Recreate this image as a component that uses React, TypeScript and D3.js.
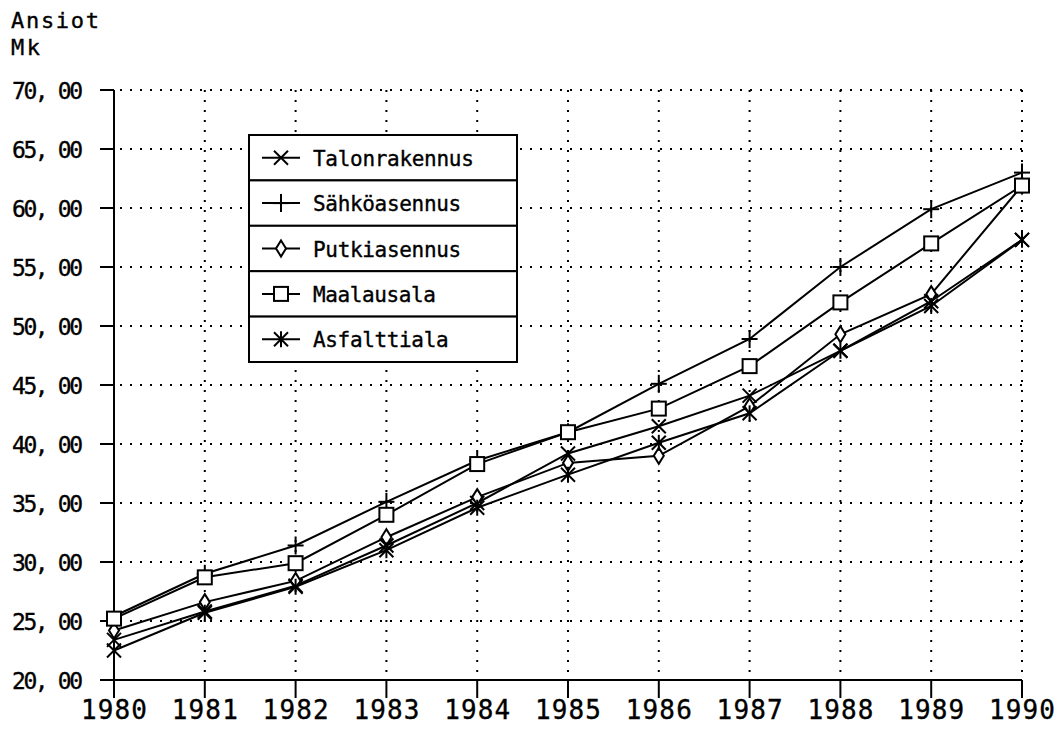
import React, { useEffect, useRef } from "react";
import * as d3 from "d3";

const years = [1980, 1981, 1982, 1983, 1984, 1985, 1986, 1987, 1988, 1989, 1990];
const yTicks = [20, 25, 30, 35, 40, 45, 50, 55, 60, 65, 70];

const seriesNames = ["Talonrakennus", "Sähköasennus", "Putkiasennus", "Maalausala", "Asfalttiala"];
const seriesMarkers = ["x", "plus", "diamond", "square", "asterisk"];

const talonrakennus = [23.4, 25.8, 28.0, 31.4, 35.0, 39.2, 41.5, 44.1, 47.9, 52.1, 57.3];
const sahkoasennus = [25.4, 29.0, 31.4, 35.1, 38.6, 41.0, 45.1, 48.9, 55.0, 59.9, 63.0];
const putkiasennus = [24.2, 26.6, 28.4, 32.1, 35.5, 38.4, 39.0, 43.2, 49.3, 52.7, 61.9];
const maalausala = [25.2, 28.7, 29.9, 34.0, 38.3, 41.0, 43.0, 46.6, 52.0, 57.0, 61.9];
const asfalttiala = [22.5, 25.7, 27.9, 31.0, 34.6, 37.4, 40.1, 42.6, 47.9, 51.7, 57.3];

const seriesValues = [talonrakennus, sahkoasennus, putkiasennus, maalausala, asfalttiala];

const FONT = "'DejaVu Sans Mono', monospace";

// draw one marker shape centred on (x, y)
function drawMarker(g: any, type: string, x: number, y: number) {
  const s = 7;
  const line = (x1: number, y1: number, x2: number, y2: number) =>
    g.append("line")
      .attr("x1", x1).attr("y1", y1).attr("x2", x2).attr("y2", y2)
      .attr("stroke", "black").attr("stroke-width", 2);
  if (type === "x" || type === "asterisk") {
    line(x - s, y - s, x + s, y + s);
    line(x - s, y + s, x + s, y - s);
  }
  if (type === "asterisk") {
    line(x, y - s - 1, x, y + s + 1);
  }
  if (type === "plus") {
    line(x - 8, y, x + 8, y);
    line(x, y - 9, x, y + 9);
  }
  if (type === "diamond") {
    g.append("path")
      .attr("d", `M${x},${y - 8}L${x + 5},${y}L${x},${y + 8}L${x - 5},${y}Z`)
      .attr("fill", "white").attr("stroke", "black").attr("stroke-width", 2);
  }
  if (type === "square") {
    g.append("rect")
      .attr("x", x - 7).attr("y", y - 7).attr("width", 14).attr("height", 14)
      .attr("fill", "white").attr("stroke", "black").attr("stroke-width", 2);
  }
}

// text in the plotter-like style: monospaced, spread to a given width
function addText(sel: any, str: string, x: number, y: number, size: number, width: number) {
  return sel.append("text")
    .attr("x", x).attr("y", y)
    .attr("font-family", FONT).attr("font-size", size)
    .attr("stroke", "black").attr("stroke-width", 0.35)
    .attr("textLength", width).attr("lengthAdjust", "spacing")
    .text(str);
}

const App = () => {
  const svgRef = useRef<SVGSVGElement>(null);

  useEffect(() => {
    const svg = d3.select(svgRef.current);
    svg.selectAll("*").remove();

    const left = 114, right = 1022, top = 90, bottom = 680;

    const x = d3.scaleLinear().domain([1980, 1990]).range([left, right]);
    const y = d3.scaleLinear().domain([20, 70]).range([bottom, top]);

    // titles
    addText(svg, "Ansiot", 11, 28, 22, 88);
    addText(svg, "Mk", 11, 55, 22, 29);

    // dotted grid
    const grid = svg.append("g").attr("stroke", "black").attr("stroke-width", 2)
      .attr("stroke-dasharray", "2,8");
    yTicks.filter((t) => t > 20).forEach((t) => {
      grid.append("line").attr("x1", left + 6).attr("x2", right)
        .attr("y1", y(t)).attr("y2", y(t));
    });
    years.filter((yr) => yr > 1980).forEach((yr) => {
      grid.append("line").attr("x1", x(yr)).attr("x2", x(yr))
        .attr("y1", top).attr("y2", bottom - 4);
    });

    // axes
    const axes = svg.append("g").attr("stroke", "black").attr("stroke-width", 2);
    axes.append("line").attr("x1", left).attr("x2", left).attr("y1", top).attr("y2", bottom + 18);
    axes.append("line").attr("x1", left - 14).attr("x2", right).attr("y1", bottom).attr("y2", bottom);
    yTicks.forEach((t) => {
      axes.append("line").attr("x1", left - 14).attr("x2", left).attr("y1", y(t)).attr("y2", y(t));
    });
    years.forEach((yr) => {
      axes.append("line").attr("x1", x(yr)).attr("x2", x(yr)).attr("y1", bottom).attr("y2", bottom + 18);
    });

    // tick labels
    yTicks.forEach((t) => {
      addText(svg, d3.format(".2f")(t).replace(".", ", "), 12, y(t) + 9, 23, 71);
    });
    years.forEach((yr) => {
      addText(svg, String(yr), x(yr) - 33, 719, 26, 66);
    });

    // series lines
    const lineGen = d3.line<number>()
      .x((_, i) => x(years[i]))
      .y((d) => y(d));
    seriesValues.forEach((vals) => {
      svg.append("path").attr("d", lineGen(vals))
        .attr("fill", "none").attr("stroke", "black").attr("stroke-width", 2);
    });
    seriesValues.forEach((vals, si) => {
      const g = svg.append("g");
      vals.forEach((v, i) => drawMarker(g, seriesMarkers[si], x(years[i]), y(v)));
    });

    // legend
    const lx = 249, ly = 135, lw = 268, rowH = 45.4;
    const legend = svg.append("g");
    seriesNames.forEach((name, i) => {
      const ry = ly + i * rowH;
      legend.append("rect").attr("x", lx).attr("y", ry).attr("width", lw).attr("height", rowH)
        .attr("fill", "white").attr("stroke", "black").attr("stroke-width", 2);
      const cy = ry + rowH / 2;
      legend.append("line").attr("x1", 262).attr("x2", 300).attr("y1", cy).attr("y2", cy)
        .attr("stroke", "black").attr("stroke-width", 2);
      drawMarker(legend, seriesMarkers[i], 281, cy);
      addText(legend, name, 313, cy + 8, 21, name.length * 12.6 - 3);
    });
  }, []);

  return (
    <div style={{ position: "absolute", left: 0, top: 0 }}>
      <svg ref={svgRef} width={1058} height={729} style={{ display: "block", background: "white" }}></svg>
    </div>
  );
};

export default App;
